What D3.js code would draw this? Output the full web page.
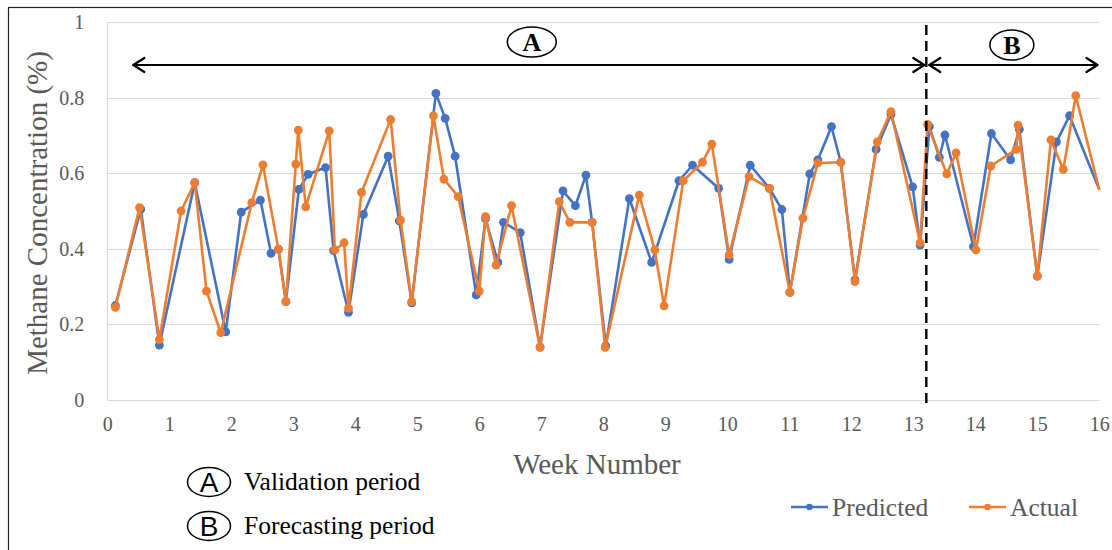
<!DOCTYPE html>
<html>
<head>
<meta charset="utf-8">
<script src="https://cdn.jsdelivr.net/npm/d3@7"></script>
<style>
  html, body { margin: 0; padding: 0; background: #fff; }
  svg { display: block; }
  .tick text { font-family: "Liberation Serif", "Times New Roman", serif; fill: #595959; }
</style>
</head>
<body>
<svg id="chart" width="1112" height="550"></svg>
<script>
// Weekly methane concentration: model prediction vs. measured values
const predictedWeeks = [0.13, 0.54, 0.84, 1.41, 1.91, 2.16, 2.47, 2.64, 2.76, 2.88, 3.09, 3.24, 3.52, 3.65, 3.89,
  4.13, 4.53, 4.71, 4.91, 5.30, 5.45, 5.61, 5.95, 6.10, 6.30, 6.39, 6.66, 6.98, 7.35, 7.55, 7.72, 7.82,
  8.04, 8.42, 8.78, 9.22, 9.44, 9.86, 10.03, 10.37, 10.68, 10.88, 11.01, 11.33, 11.46, 11.68, 11.83,
  12.06, 12.40, 12.64, 12.99, 13.11, 13.26, 13.42, 13.51, 13.97, 14.26, 14.57, 14.71, 15.00, 15.31, 15.52, 16.0];
const predictedValues = [0.25, 0.505, 0.145, 0.575, 0.18, 0.497, 0.529, 0.388, 0.399, 0.26, 0.557, 0.597, 0.615, 0.395, 0.232,
  0.491, 0.645, 0.474, 0.257, 0.811, 0.745, 0.645, 0.278, 0.48, 0.364, 0.47, 0.443, 0.14, 0.553, 0.514, 0.595, 0.47,
  0.143, 0.533, 0.364, 0.58, 0.621, 0.56, 0.372, 0.621, 0.56, 0.504, 0.285, 0.598, 0.635, 0.723, 0.629,
  0.318, 0.663, 0.755, 0.564, 0.41, 0.723, 0.642, 0.701, 0.406, 0.705, 0.635, 0.716, 0.328, 0.683, 0.752, 0.556];

const actualWeeks = [0.13, 0.52, 0.84, 1.19, 1.41, 1.60, 1.83, 2.33, 2.51, 2.76, 2.88, 3.04, 3.08, 3.20, 3.58, 3.67, 3.82, 3.89,
  4.10, 4.57, 4.73, 4.91, 5.26, 5.43, 5.66, 6.00, 6.10, 6.27, 6.52, 6.98, 7.29, 7.46, 7.82,
  8.03, 8.58, 8.83, 8.98, 9.29, 9.60, 9.75, 10.03, 10.35, 10.68, 11.01, 11.22, 11.46, 11.83,
  12.06, 12.42, 12.64, 13.11, 13.23, 13.54, 13.69, 14.01, 14.25, 14.66, 14.69, 15.00, 15.22, 15.42, 15.62, 16.0];
const actualValues = [0.245, 0.509, 0.16, 0.50, 0.575, 0.288, 0.178, 0.522, 0.622, 0.399, 0.26, 0.624, 0.714, 0.511, 0.712, 0.397, 0.416, 0.243,
  0.549, 0.742, 0.476, 0.26, 0.752, 0.584, 0.538, 0.288, 0.485, 0.357, 0.514, 0.139, 0.525, 0.47, 0.47,
  0.139, 0.542, 0.397, 0.249, 0.58, 0.629, 0.677, 0.384, 0.591, 0.56, 0.285, 0.481, 0.627, 0.629,
  0.313, 0.683, 0.763, 0.416, 0.729, 0.598, 0.654, 0.397, 0.619, 0.663, 0.727, 0.328, 0.688, 0.61, 0.805, 0.556];

const xTicks = d3.range(0, 17, 1);
const yTicks = [0, 0.2, 0.4, 0.6, 0.8, 1];
const seriesNames = ["Predicted", "Actual"];
const seriesColors = ["#4472C4", "#ED7D31"];

// Period boundaries (week numbers)
const validationStart = 0.42;
const forecastStart = 13.21;
const forecastEnd = 15.97;

const serif = "Liberation Serif, Times New Roman, serif";
const svg = d3.select("#chart");

// outer frame
svg.append("rect")
  .attr("x", 8.5).attr("y", 7.5).attr("width", 1200).attr("height", 600)
  .attr("fill", "none").attr("stroke", "#222").attr("stroke-width", 1.2);

const x = d3.scaleLinear().domain([0, 16]).range([107.3, 1099.3]);
const y = d3.scaleLinear().domain([0, 1]).range([400, 22]);

// gridlines
svg.append("g").selectAll("line").data(yTicks).join("line")
  .attr("x1", x(0)).attr("x2", x(16))
  .attr("y1", d => Math.round(y(d)) + 0.5).attr("y2", d => Math.round(y(d)) + 0.5)
  .attr("stroke", "#d9d9d9").attr("stroke-width", 1.2);
svg.append("line")
  .attr("x1", Math.round(x(0)) + 0.5).attr("x2", Math.round(x(0)) + 0.5)
  .attr("y1", y(1)).attr("y2", y(0))
  .attr("stroke", "#d9d9d9").attr("stroke-width", 1.2);

// axes
const yAxis = svg.append("g")
  .attr("transform", `translate(${x(0) - 20},0)`)
  .call(d3.axisLeft(y).tickValues(yTicks).tickSize(0).tickFormat(d3.format("~g")));
yAxis.select(".domain").remove();
yAxis.selectAll("text").attr("font-size", 20).attr("dx", 0);

const xAxis = svg.append("g")
  .attr("transform", `translate(0,${y(0) + 14})`)
  .call(d3.axisBottom(x).tickValues(xTicks).tickSize(0).tickFormat(d3.format("d")));
xAxis.select(".domain").remove();
xAxis.selectAll("text").attr("font-size", 20);

// axis titles
svg.append("text")
  .attr("transform", `translate(47,${(y(0) + y(1)) / 2 + 2}) rotate(-90)`)
  .attr("text-anchor", "middle")
  .attr("font-family", serif)
  .attr("font-size", 29).attr("fill", "#595959")
  .text("Methane Concentration (%)");
svg.append("text")
  .attr("x", 597).attr("y", 474)
  .attr("text-anchor", "middle")
  .attr("font-family", serif)
  .attr("font-size", 29).attr("fill", "#595959")
  .text("Week Number");

// series
const series = [
  { name: seriesNames[0], color: seriesColors[0], pts: predictedWeeks.map((w, i) => [w, predictedValues[i]]) },
  { name: seriesNames[1], color: seriesColors[1], pts: actualWeeks.map((w, i) => [w, actualValues[i]]) }
];
const line = d3.line().x(d => x(d[0])).y(d => y(d[1]));

series.forEach(s => {
  const g = svg.append("g");
  g.append("path").datum(s.pts)
    .attr("d", line).attr("fill", "none")
    .attr("stroke", s.color).attr("stroke-width", 2.6)
    .attr("stroke-linejoin", "round");
  g.selectAll("circle").data(s.pts.filter(d => d[0] < 16)).join("circle")
    .attr("cx", d => x(d[0])).attr("cy", d => y(d[1]))
    .attr("r", 4.4).attr("fill", s.color);
});

// period divider
svg.append("line")
  .attr("x1", x(forecastStart)).attr("x2", x(forecastStart))
  .attr("y1", 25).attr("y2", 406)
  .attr("stroke", "#000").attr("stroke-width", 2.4)
  .attr("stroke-dasharray", "10,6");

// double-headed period arrows
function arrow(x1, x2, yy) {
  const g = svg.append("g").attr("stroke", "#000").attr("fill", "none")
    .attr("stroke-width", 2.2).attr("stroke-linecap", "round").attr("stroke-linejoin", "round");
  g.append("line").attr("x1", x1).attr("x2", x2).attr("y1", yy).attr("y2", yy);
  g.append("path").attr("d", `M${x1 + 11},${yy - 7} L${x1},${yy} L${x1 + 11},${yy + 7}`);
  g.append("path").attr("d", `M${x2 - 11},${yy - 7} L${x2},${yy} L${x2 - 11},${yy + 7}`);
}
arrow(x(validationStart), x(forecastStart) - 2, 65);
arrow(x(forecastStart) + 3, x(forecastEnd), 65);

// period badges
function badge(cx, cy, rx, ry, letter, bold, family, size) {
  svg.append("ellipse").attr("cx", cx).attr("cy", cy).attr("rx", rx).attr("ry", ry)
    .attr("fill", "#fff").attr("stroke", "#000").attr("stroke-width", 1.5);
  svg.append("text").attr("x", cx).attr("y", cy).attr("dy", "0.35em")
    .attr("text-anchor", "middle").attr("font-family", family)
    .attr("font-weight", bold ? "bold" : "normal").attr("font-size", size)
    .attr("fill", "#000").text(letter);
}
badge((x(validationStart) + x(forecastStart)) / 2 + 2, 42, 24.5, 15, "A", true, serif, 26);
badge((x(forecastStart) + x(forecastEnd)) / 2, 45, 22, 15, "B", true, serif, 26);

// period key
const keyItems = [["A", "Validation period"], ["B", "Forecasting period"]];
keyItems.forEach((k, i) => {
  const cy = 482 + i * 44;
  badge(209, cy, 21.5, 14.5, k[0], false, "Liberation Sans, Arial, sans-serif", 28);
  svg.append("text").attr("x", 244).attr("y", cy + 8)
    .attr("font-family", serif)
    .attr("font-size", 25.5).attr("fill", "#000").text(k[1]);
});

// series legend
const legendX = [791, 969];
series.forEach((s, i) => {
  const lx = legendX[i];
  const g = svg.append("g");
  g.append("line").attr("x1", lx).attr("x2", lx + 37).attr("y1", 507).attr("y2", 507)
    .attr("stroke", s.color).attr("stroke-width", 2.6);
  g.append("circle").attr("cx", lx + 18.5).attr("cy", 507).attr("r", 3.3).attr("fill", s.color);
  g.append("text").attr("x", lx + 41).attr("y", 516)
    .attr("font-family", serif)
    .attr("font-size", 25.5).attr("fill", "#595959").text(s.name);
});
</script>
</body>
</html>
